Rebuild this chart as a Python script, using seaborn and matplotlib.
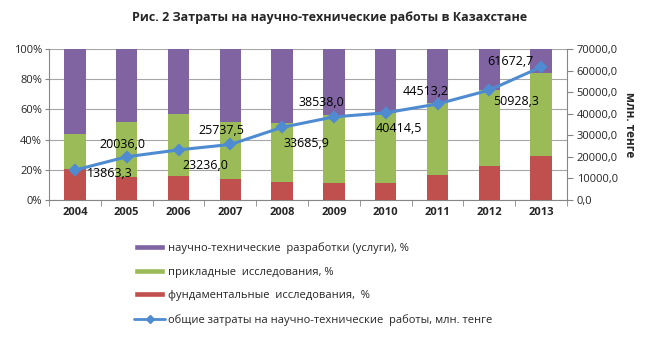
import numpy as np
import pandas as pd
import matplotlib
matplotlib.use("Agg")
import matplotlib.pyplot as plt
from matplotlib.patches import Patch
from matplotlib.lines import Line2D
from matplotlib.ticker import FuncFormatter, FixedLocator
import seaborn as sns

years = ["2004", "2005", "2006", "2007", "2008", "2009", "2010", "2011", "2012", "2013"]
fundamental = [20.3, 15.5, 16.1, 13.9, 11.9, 11.0, 11.0, 16.8, 22.5, 29.4]
applied = [23.2, 36.4, 40.9, 37.5, 39.3, 45.3, 46.8, 47.2, 50.3, 54.5]
services = [56.5, 48.1, 43.0, 48.6, 48.8, 43.7, 42.2, 36.0, 27.2, 16.1]
totals = [13863.3, 20036.0, 23236.0, 25737.5, 33685.9, 38538.0, 40414.5, 44513.2, 50928.3, 61672.7]
total_labels = ["13863,3", "20036,0", "23236,0", "25737,5", "33685,9",
                "38538,0", "40414,5", "44513,2", "50928,3", "61672,7"]
left_ticks = [0, 20, 40, 60, 80, 100]
right_ticks = [0, 10000, 20000, 30000, 40000, 50000, 60000, 70000]

title = "Рис. 2 Затраты на научно-технические работы в Казахстане"
leg_services = "научно-технические  разработки (услуги), %"
leg_applied = "прикладные  исследования, %"
leg_fund = "фундаментальные  исследования,  %"
leg_total = "общие затраты на научно-технические  работы, млн. тенге"
right_label = "млн. тенге"

# label offsets (pixels) for line data labels
label_offsets = [(35, -3), (-4, 12), (27, -16), (-9, 14), (24, -16),
                 (-13, 14), (13, -16), (-12, 12), (27, -11), (-31, 5)]

sns.set_style("white")
plt.rcParams['font.family'] = ['Open Sans', 'DejaVu Sans']

C_PURPLE = "#8064A2"
C_GREEN = "#9BBB59"
C_RED = "#C0504D"
C_LINE = "#4F8BD0"
C_AXIS = "#868686"

df = pd.DataFrame({"year": years, "fund": fundamental, "appl": applied, "serv": services})
df["cum_green"] = df["fund"] + df["appl"]
df["cum_all"] = df["cum_green"] + df["serv"]

fig = plt.figure(figsize=(6.6, 3.41), dpi=100)
ax = fig.add_axes([49/660, 1 - 200/341, (567-49)/660, (200-49)/341])

bw = 0.41
sns.barplot(data=df, x="year", y="cum_all", color=C_PURPLE, width=bw, saturation=1, ax=ax, zorder=2)
sns.barplot(data=df, x="year", y="cum_green", color=C_GREEN, width=bw, saturation=1, ax=ax, zorder=2)
sns.barplot(data=df, x="year", y="fund", color=C_RED, width=bw, saturation=1, ax=ax, zorder=2)
for p in ax.patches:
    p.set_linewidth(0)

ax.set_ylim(0, 100)
ax.set_xlim(-0.5, len(years) - 0.5)
ax.set_yticks(left_ticks)
ax.yaxis.set_major_formatter(FuncFormatter(lambda v, _: f"{int(v)}%"))
ax.set_xlabel("")
ax.set_ylabel("")
ax.grid(axis="y", color="#a6a6a6", linewidth=0.8, zorder=0)
ax.grid(axis="x", visible=False)
ax.set_axisbelow(True)
for s in ["top", "right"]:
    ax.spines[s].set_visible(False)
ax.spines["left"].set_color(C_AXIS)
ax.spines["bottom"].set_color(C_AXIS)
ax.xaxis.set_minor_locator(FixedLocator(np.arange(-0.5, len(years), 1.0)))
ax.tick_params(axis="x", which="minor", length=4, color=C_AXIS, bottom=True)
ax.tick_params(axis="y", labelsize=8, length=3, color=C_AXIS, left=True, pad=2)
ax.tick_params(axis="x", which="major", labelsize=8, length=0, pad=5)
for t in ax.get_xticklabels():
    t.set_fontweight("bold")

ax2 = ax.twinx()
sns.pointplot(x=years, y=totals, ax=ax2, color=C_LINE, markers="D", markersize=5,
              linewidth=2.2, zorder=5)
ax2.set_ylim(0, 70000)
ax2.set_xlim(-0.5, len(years) - 0.5)
ax2.set_yticks(right_ticks)
ax2.yaxis.set_major_formatter(FuncFormatter(lambda v, _: f"{int(v)},0"))
ax2.tick_params(axis="y", labelsize=8, length=4, color=C_AXIS, right=True, pad=3)
for s in ["top", "left", "bottom"]:
    ax2.spines[s].set_visible(False)
ax2.spines["right"].set_color(C_AXIS)
ax2.set_ylabel(right_label, rotation=270, fontsize=8.5, fontweight="bold", labelpad=13)
ax2.grid(False)

for i, (v, lab, off) in enumerate(zip(totals, total_labels, label_offsets)):
    ax2.annotate(lab, (i, v), xytext=off, textcoords="offset pixels",
                 ha="center", va="center", fontsize=9, color="#000000", zorder=6)

fig.text(0.5, 1 - 17/341, title, ha="center", va="center", fontsize=9, fontweight="bold")

handles = [Patch(facecolor=C_PURPLE), Patch(facecolor=C_GREEN), Patch(facecolor=C_RED),
           Line2D([0], [0], color=C_LINE, marker="D", markersize=4, linewidth=2)]
labels = [leg_services, leg_applied, leg_fund, leg_total]
fig.legend(handles, labels, loc="upper left", bbox_to_anchor=(134/660, 1 - 242/341),
           frameon=False, fontsize=8, handlelength=2.8, handleheight=0.45,
           handletextpad=0.3, labelspacing=1.15, borderaxespad=0, borderpad=0)

fig.savefig("out.png", dpi=100)
